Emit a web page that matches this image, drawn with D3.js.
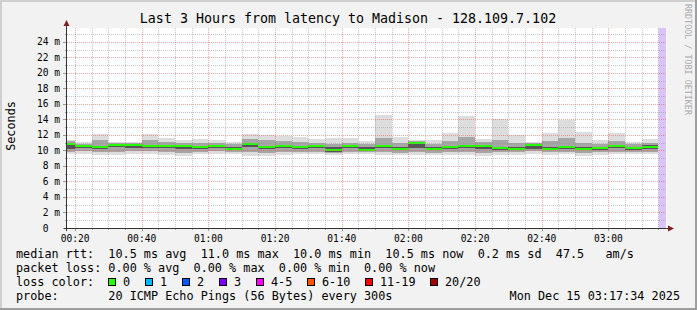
<!DOCTYPE html>
<html>
<head>
<meta charset="utf-8">
<script src="https://cdn.jsdelivr.net/npm/d3@7"></script>
<style>
  body { margin: 0; background: #f2f2f2; }
  svg { display: block; font-family: "DejaVu Sans Mono", monospace; }
  text { white-space: pre; }
</style>
</head>
<body>
<div id="chart"></div>
<script>
// 5 minute bins, first one starts at 00:15 (values in ms)
var medianRtt = [10.9, 10.6, 10.4, 10.75, 10.7, 10.6, 10.6, 10.6, 10.45, 10.6, 10.2, 10.9,
                 10.45, 10.6, 10.45, 10.6, 10.0, 10.6, 10.1, 10.6, 10.2, 11.0, 10.2, 10.45,
                 10.6, 10.6, 10.3, 10.2, 10.75, 10.2, 10.45, 10.2, 10.3, 10.6, 10.35, 10.5];
var pingMin   = [9.5, 9.6, 9.4, 9.4, 9.5, 9.6, 9.4, 9.35, 9.5, 9.5, 9.5, 9.3,
                 9.3, 9.4, 9.5, 9.5, 9.4, 9.5, 9.5, 9.4, 9.4, 9.4, 9.4, 9.4,
                 9.4, 9.3, 9.4, 9.4, 9.6, 9.4, 9.5, 9.3, 9.4, 9.5, 9.5, 9.55];
var pingMax   = [11.35, 11.1, 12.1, 11.1, 11.1, 12.1, 11.6, 11.35, 11.5, 11.4, 11.1, 12.1,
                 12.0, 11.9, 11.7, 11.5, 11.6, 11.6, 11.2, 14.6, 11.8, 11.35, 11.3, 12.3,
                 14.5, 11.45, 14.1, 12.0, 11.1, 12.3, 13.9, 12.4, 11.35, 12.3, 11.1, 11.5];
var pingLow   = [9.8, 9.9, 9.8, 9.8, 9.9, 9.9, 9.8, 9.7, 9.8, 9.9, 9.8, 9.8,
                 9.7, 9.8, 9.8, 9.8, 9.7, 9.8, 9.8, 9.8, 9.7, 9.8, 9.7, 9.8,
                 9.8, 9.7, 9.8, 9.8, 9.9, 9.8, 9.8, 9.7, 9.8, 9.8, 9.8, 9.8];
var pingHigh  = [11.2, 10.9, 11.3, 11.0, 11.0, 11.4, 11.1, 11.0, 11.0, 11.0, 10.8, 11.5,
                 11.3, 11.2, 11.1, 11.0, 10.9, 11.0, 10.8, 11.6, 11.0, 11.2, 10.8, 11.2,
                 11.7, 11.1, 11.3, 11.0, 11.0, 11.2, 11.6, 11.0, 10.9, 11.2, 10.8, 11.0];
var coreLow   = [10.2, 10.3, 10.2, 10.4, 10.3, 10.3, 10.3, 10.2, 10.2, 10.3, 10.0, 10.4,
                 10.2, 10.3, 10.2, 10.3, 9.85, 10.3, 9.9, 10.3, 10.0, 10.3, 10.0, 10.2,
                 10.3, 10.2, 10.1, 10.0, 10.2, 10.0, 10.2, 10.0, 10.1, 10.3, 10.1, 10.2];
var coreHigh  = [11.0, 10.7, 10.5, 10.85, 10.8, 10.75, 10.7, 10.7, 10.6, 10.75, 10.4, 11.0,
                 10.6, 10.7, 10.6, 10.7, 10.4, 10.7, 10.4, 10.7, 10.4, 11.0, 10.4, 10.6,
                 10.75, 10.7, 10.5, 10.4, 10.85, 10.4, 10.6, 10.5, 10.5, 10.75, 10.5, 10.65];

var yTicks = [0, 2, 4, 6, 8, 10, 12, 14, 16, 18, 20, 22, 24];
var xTickLabels = ["00:20", "00:40", "01:00", "01:20", "01:40", "02:00", "02:20", "02:40", "03:00"];
var lossLabels = ["0", "1", "2", "3", "4-5", "6-10", "11-19", "20/20"];
var lossColors = ["#26ff00", "#00b8ff", "#0059ff", "#7e00ff", "#ff00ff", "#ff5500", "#ff0000", "#a10000"];
var legendLines = [
  "median rtt:  10.5 ms avg  11.0 ms max  10.0 ms min  10.5 ms now  0.2 ms sd  47.5   am/s",
  "packet loss: 0.00 % avg  0.00 % max  0.00 % min  0.00 % now",
  "loss color:",
  "probe:       20 ICMP Echo Pings (56 Bytes) every 300s"
];
var title = "Last 3 Hours from latency to Madison - 128.109.7.102";
var stamp = "Mon Dec 15 03:17:34 2025";

var W = 697, H = 310;
var plotL = 67, plotR = 667, plotT = 28, plotB = 228;
var tStart = new Date(2025, 11, 15, 0, 17, 34), tEnd = new Date(2025, 11, 15, 3, 17, 34);
var firstBin = new Date(2025, 11, 15, 0, 15, 0);
var step = 5 * 60 * 1000;

var x = d3.scaleTime().domain([tStart, tEnd]).range([plotL, plotR]);
var y = d3.scaleLinear().domain([0, 25.8]).range([plotB, plotT]);

var svg = d3.select("#chart").append("svg").attr("width", W).attr("height", H);

// background + shade frame
svg.append("rect").attr("width", W).attr("height", H).attr("fill", "#f2f2f2");
svg.append("rect").attr("x", 0).attr("y", 0).attr("width", W).attr("height", 2).attr("fill", "#cfcfcf");
svg.append("rect").attr("x", 0).attr("y", 0).attr("width", 2).attr("height", H).attr("fill", "#cfcfcf");
svg.append("rect").attr("x", 0).attr("y", H - 2).attr("width", W).attr("height", 2).attr("fill", "#9e9e9e");
svg.append("rect").attr("x", W - 2).attr("y", 0).attr("width", 2).attr("height", H).attr("fill", "#9e9e9e");

svg.append("rect").attr("x", plotL).attr("y", plotT).attr("width", plotR - plotL).attr("height", plotB - plotT).attr("fill", "#fff");

svg.append("clipPath").attr("id", "plotclip").append("rect")
  .attr("x", plotL).attr("y", plotT).attr("width", plotR - plotL).attr("height", plotB - plotT);

var bins = medianRtt.map(function(m, i) {
  return {t0: new Date(+firstBin + i * step), t1: new Date(+firstBin + (i + 1) * step), i: i};
});

var plot = svg.append("g").attr("clip-path", "url(#plotclip)");

function band(lo, hi, color) {
  plot.append("g").selectAll("rect").data(bins).enter().append("rect")
    .attr("x", function(d) { return x(d.t0); })
    .attr("width", function(d) { return x(d.t1) - x(d.t0); })
    .attr("y", function(d) { return y(hi[d.i]); })
    .attr("height", function(d) { return y(lo[d.i]) - y(hi[d.i]); })
    .attr("fill", color).attr("shape-rendering", "crispEdges");
}
band(pingMin, pingMax, "#dddddd");
band(pingLow, pingHigh, "#a6a6a6");
band(coreLow, coreHigh, "#555555");

plot.append("g").selectAll("rect").data(bins).enter().append("rect")
  .attr("x", function(d) { return x(d.t0); })
  .attr("width", function(d) { return x(d.t1) - x(d.t0); })
  .attr("y", function(d) { return y(medianRtt[d.i]) - 1; })
  .attr("height", 2)
  .attr("fill", lossColors[0]).attr("shape-rendering", "crispEdges");

// unknown (no data yet) column
var lastBin = new Date(+firstBin + medianRtt.length * step);
plot.append("rect").attr("x", x(lastBin)).attr("y", plotT)
  .attr("width", x(tEnd) - x(lastBin) - 1).attr("height", plotB - plotT)
  .attr("fill", "#d9c3f7");

// grid (drawn over data, like rrdtool)
var grid = svg.append("g").attr("shape-rendering", "crispEdges");
var minorY = d3.range(0, 26, 1).filter(function(v) { return v % 2; });
grid.selectAll(".hmin").data(minorY).enter().append("line")
  .attr("x1", plotL).attr("x2", plotR)
  .attr("y1", function(d) { return Math.round(y(d)) + 0.5; })
  .attr("y2", function(d) { return Math.round(y(d)) + 0.5; })
  .attr("stroke", "rgba(143,143,143,0.5)").attr("stroke-dasharray", "1,1");
var minorT = d3.timeMinute.every(5).range(tStart, tEnd).filter(function(t) { return t.getMinutes() % 20; });
grid.selectAll(".vmin").data(minorT).enter().append("line")
  .attr("y1", plotT).attr("y2", plotB)
  .attr("x1", function(d) { return Math.round(x(d)) + 0.5; })
  .attr("x2", function(d) { return Math.round(x(d)) + 0.5; })
  .attr("stroke", "rgba(143,143,143,0.5)").attr("stroke-dasharray", "1,1");
grid.selectAll(".hmaj").data(yTicks.slice(1)).enter().append("line")
  .attr("x1", plotL).attr("x2", plotR)
  .attr("y1", function(d) { return Math.round(y(d)) + 0.5; })
  .attr("y2", function(d) { return Math.round(y(d)) + 0.5; })
  .attr("stroke", "rgba(222,80,67,0.5)").attr("stroke-dasharray", "1,1");
var majorT = d3.timeMinute.every(20).range(tStart, tEnd);
grid.selectAll(".vmaj").data(majorT).enter().append("line")
  .attr("y1", plotT).attr("y2", plotB)
  .attr("x1", function(d) { return Math.round(x(d)) + 0.5; })
  .attr("x2", function(d) { return Math.round(x(d)) + 0.5; })
  .attr("stroke", "rgba(222,80,67,0.5)").attr("stroke-dasharray", "1,1");

// ticks
grid.selectAll(".ytk").data(d3.range(0, 26, 1)).enter().append("line")
  .attr("x1", function(d) { return d % 2 ? plotL - 2 : plotL - 4; }).attr("x2", plotL)
  .attr("y1", function(d) { return Math.round(y(d)) + 0.5; })
  .attr("y2", function(d) { return Math.round(y(d)) + 0.5; })
  .attr("stroke", "#999");
grid.selectAll(".xtk").data(d3.timeMinute.every(5).range(tStart, tEnd)).enter().append("line")
  .attr("y1", plotB).attr("y2", function(d) { return d.getMinutes() % 20 ? plotB + 2 : plotB + 3; })
  .attr("x1", function(d) { return Math.round(x(d)) + 0.5; })
  .attr("x2", function(d) { return Math.round(x(d)) + 0.5; })
  .attr("stroke", "#999");

// axes with arrows
var axisCol = "#333";
svg.append("line").attr("x1", plotL - 0.5).attr("x2", plotL - 0.5).attr("y1", plotB + 3).attr("y2", plotT - 3)
  .attr("stroke", axisCol).attr("shape-rendering", "crispEdges");
svg.append("line").attr("x1", plotL - 3).attr("x2", plotR + 2).attr("y1", plotB + 0.5).attr("y2", plotB + 0.5)
  .attr("stroke", axisCol).attr("shape-rendering", "crispEdges");
svg.append("path").attr("d", "M" + (plotL - 3.5) + "," + (plotT - 2) + "L" + (plotL + 2.5) + "," + (plotT - 2) + "L" + (plotL - 0.5) + "," + (plotT - 8) + "Z")
  .attr("fill", "#7f1f1f");
svg.append("path").attr("d", "M" + (plotR + 1) + "," + (plotB - 2.5) + "L" + (plotR + 1) + "," + (plotB + 3.5) + "L" + (plotR + 7) + "," + (plotB + 0.5) + "Z")
  .attr("fill", "#7f1f1f");

// tick labels
svg.append("g").selectAll("text").data(yTicks).enter().append("text")
  .attr("x", 60).attr("y", function(d) { return y(d) + 3.5; })
  .attr("text-anchor", "end").attr("font-size", "9.6px").attr("fill", "#000")
  .text(function(d) { return d === 0 ? "0  " : d + " m"; });
svg.append("g").selectAll("text").data(majorT).enter().append("text")
  .attr("x", function(d) { return x(d); }).attr("y", 241.5)
  .attr("text-anchor", "middle").attr("font-size", "9.6px").attr("fill", "#000")
  .text(function(d, i) { return xTickLabels[i]; });

// titles
svg.append("text").attr("x", 348).attr("y", 23.3).attr("text-anchor", "middle")
  .attr("font-size", "13.3px").text(title);
svg.append("text").attr("transform", "translate(15,126) rotate(-90)").attr("text-anchor", "middle")
  .attr("font-size", "11.8px").text("Seconds");
svg.append("text").attr("transform", "translate(685,4) rotate(90)")
  .attr("font-size", "8.4px").attr("fill", "#aaaaaa").text("RRDTOOL / TOBI OETIKER");

// legend
var charW = 7.1;
var leg = svg.append("g").attr("font-size", "11.8px");
legendLines.forEach(function(s, i) {
  leg.append("text").attr("x", 16).attr("y", 257.5 + i * 14).text(s);
});
leg.append("text").attr("x", 680).attr("y", 257.5 + 3 * 14).attr("text-anchor", "end").text(stamp);
var bx = 108.5;
lossLabels.forEach(function(l, i) {
  leg.append("rect").attr("x", bx).attr("y", 278.5).attr("width", 7).attr("height", 7)
    .attr("fill", lossColors[i]).attr("stroke", "#000").attr("stroke-width", 1);
  leg.append("text").attr("x", bx + 14.5).attr("y", 257.5 + 2 * 14).text(l);
  bx = bx + 14.5 + l.length * charW + 15;
  bx = Math.round(bx - 0.5) + 0.5;
});
</script>
</body>
</html>
